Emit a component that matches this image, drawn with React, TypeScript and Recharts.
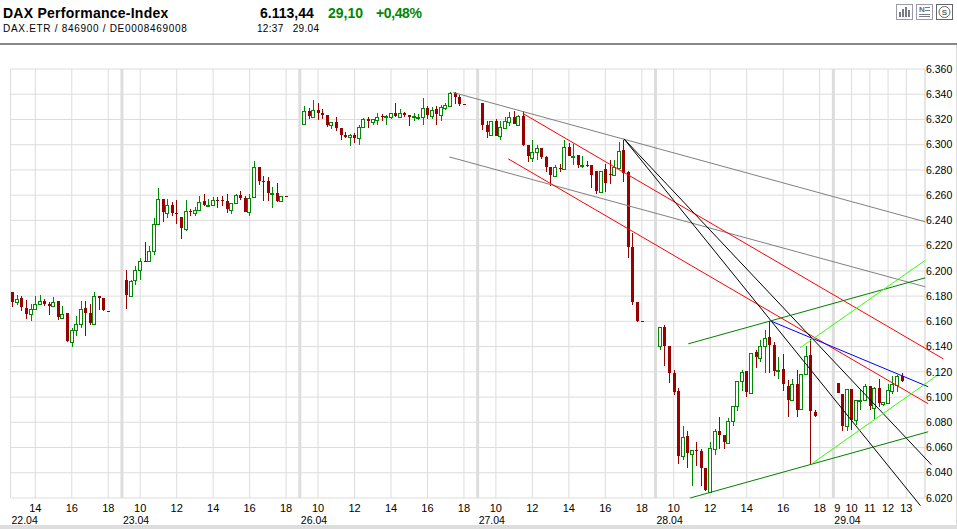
import {
  ComposedChart, Bar, XAxis, YAxis, CartesianGrid, ReferenceLine,
} from "recharts";

const FONT = '"Liberation Sans", Arial, sans-serif';
const GRID = "#dddddd";
const UP = "#008800";
const DOWN = "#990000";

// every candle is [open, high, low, close], 15 minute bars, one list per day
const day2204 = [
  [6183, 6183, 6171, 6175.5], [6175, 6181, 6173, 6178], [6178.5, 6180, 6168, 6171], [6170.5, 6177, 6162, 6166],
  [6165.5, 6174, 6160, 6170], [6170, 6180, 6169, 6174], [6174, 6181, 6173.5, 6176.5], [6176.5, 6178, 6172.5, 6174],
  [6173.5, 6175.5, 6165, 6172], [6172, 6179, 6171, 6175.5], [6176, 6176, 6161, 6163.5], [6163, 6172, 6163, 6166],
  [6166.5, 6166.5, 6143.5, 6144.5], [6144, 6154.5, 6140, 6153], [6153.5, 6164, 6148, 6158], [6158, 6176, 6155, 6170],
  [6170.5, 6176, 6148, 6167], [6166.5, 6173.5, 6157.5, 6159], [6158, 6183, 6158, 6180], [6180, 6180, 6169, 6178.5],
  [6178.5, 6178.5, 6168.5, 6169], [6168.6, 6168.6, 6168.4, 6168.4],
];
const day2304 = [
  [6192.5, 6201, 6170, 6180.7], [6180, 6193, 6179.5, 6192], [6192.5, 6204, 6189, 6201], [6201, 6210, 6192.7, 6207.7],
  [6208, 6223, 6207.5, 6207.5], [6208, 6219.5, 6208, 6216], [6216, 6242, 6212.5, 6237], [6237, 6266, 6237, 6257],
  [6257.3, 6257.3, 6238.6, 6246.5], [6245.7, 6257, 6241.7, 6252], [6252.5, 6254.4, 6243.3, 6245.7], [6245.5, 6256, 6237.5, 6245],
  [6243, 6243, 6225, 6234], [6233, 6256, 6232, 6247.5], [6247.5, 6249.4, 6243.3, 6246.5], [6246, 6251, 6243.3, 6248],
  [6248.3, 6259.4, 6248.3, 6254.7], [6255, 6261, 6251.8, 6252.5], [6251.5, 6257, 6251.2, 6252.3], [6252.3, 6258.6, 6252.3, 6256.3],
  [6256.3, 6258.6, 6249.7, 6256], [6256.5, 6259.7, 6251.2, 6255], [6255, 6261, 6246, 6249], [6248.3, 6254, 6245, 6254],
  [6254, 6261, 6253, 6260.5], [6260, 6263, 6256.5, 6257.6], [6258, 6259.7, 6246.5, 6247], [6246.8, 6261, 6243.3, 6258],
  [6258.4, 6287.4, 6258.4, 6282.4], [6282.6, 6282.6, 6268, 6271.6], [6271.5, 6275.5, 6255.7, 6271], [6271.6, 6274.7, 6255.2, 6261.8],
  [6261, 6266.8, 6249.7, 6261.8], [6262, 6270, 6254.4, 6255.7], [6255.7, 6259.4, 6255, 6259.4], [6259.5, 6259.5, 6259.3, 6259.3],
];
const day2604 = [
  [6316.8, 6330.8, 6316.8, 6326.8], [6326.8, 6329, 6320, 6322.8], [6322, 6335.5, 6322, 6327.6], [6327.6, 6333, 6319.7, 6325.2],
  [6325.2, 6328.4, 6320, 6323.6], [6323.6, 6323.6, 6314, 6315.5], [6315.5, 6317.8, 6312.8, 6317.8], [6317.8, 6322, 6311, 6313.6],
  [6313, 6313, 6303.8, 6307.8], [6307.8, 6309.7, 6305, 6306.2], [6306, 6308.6, 6299, 6307.5], [6307.5, 6309, 6301, 6305.4],
  [6305, 6315.7, 6300, 6314.4], [6314, 6321, 6313, 6320], [6320.5, 6321.8, 6313.6, 6318.4], [6317.8, 6320, 6315.7, 6320],
  [6319.7, 6325, 6316, 6322.3], [6322.8, 6324, 6318.4, 6322.3], [6322, 6323.6, 6315.7, 6323], [6322.3, 6325, 6320, 6325],
  [6325, 6333, 6322.3, 6322.8], [6322.3, 6328.4, 6322.3, 6325], [6325, 6326, 6321.8, 6323.6], [6323.4, 6323.4, 6315, 6322.3],
  [6321.8, 6325, 6318.4, 6322.6], [6321.8, 6324.2, 6319.7, 6322.3], [6322.3, 6336.8, 6315.7, 6329], [6329.2, 6330.5, 6320, 6323.6],
  [6322.8, 6330.2, 6320.5, 6327.3], [6328.4, 6330.5, 6315.7, 6324.4], [6323.6, 6331.6, 6319, 6329.7], [6329.4, 6333, 6327.6, 6331.3],
  [6331, 6342, 6331, 6340.8], [6341, 6342, 6332, 6338], [6337.6, 6339, 6331, 6332.6], [6332.2, 6332.2, 6332, 6332],
];
const day2704 = [
  [6332.7, 6332.7, 6312, 6316], [6316, 6319, 6305.7, 6310], [6308, 6318.4, 6307.6, 6318.4], [6318.4, 6320.5, 6306.8, 6307],
  [6306.8, 6319, 6304, 6314.2], [6313.4, 6322, 6312.6, 6318.4], [6318, 6325.8, 6315, 6322], [6322, 6327, 6316.3, 6316.3],
  [6315.5, 6323.7, 6314.7, 6322.4], [6323, 6327, 6299, 6299.4], [6300, 6300, 6286, 6290.7], [6289.4, 6304, 6286, 6294.4],
  [6294, 6300, 6288, 6297.6], [6297.6, 6297.6, 6289, 6290], [6290, 6290.7, 6278.3, 6282], [6282, 6282, 6267, 6275.7],
  [6275, 6284, 6275, 6282], [6281.7, 6285, 6278.3, 6281.2], [6280.7, 6303.4, 6280, 6298.4], [6298.4, 6301, 6290.7, 6290.7],
  [6290, 6300.7, 6284, 6291], [6291.5, 6291.5, 6281.5, 6284], [6283.3, 6290.7, 6281.5, 6284], [6284, 6287.3, 6282, 6283.6],
  [6284, 6284, 6265.6, 6276], [6279.4, 6279.4, 6260.6, 6263], [6262.5, 6279.4, 6262, 6279.4], [6280.4, 6284.4, 6262.5, 6269.6],
  [6276.5, 6287.5, 6268.5, 6276.2], [6275.7, 6287.5, 6275, 6282], [6281.5, 6301.8, 6281.5, 6295.2], [6295.5, 6303.4, 6270.4, 6277.8],
  [6278, 6278.8, 6210, 6219.3], [6219, 6230.4, 6172.6, 6175.7], [6175.5, 6175.5, 6159.6, 6160.4], [6160.2, 6160.2, 6160, 6160],
];
const day2804 = [
  [6140.6, 6155.9, 6137.4, 6155.9], [6155.9, 6157.5, 6125, 6140.8], [6140.8, 6140.8, 6111, 6119], [6119, 6121.6, 6102, 6104.4],
  [6105, 6107, 6046.6, 6053], [6053, 6076.7, 6050, 6068.5], [6068.8, 6073, 6043.5, 6055.6], [6055, 6058.3, 6029.5, 6058.3],
  [6058.3, 6064.3, 6045.3, 6057], [6057, 6059, 6029.5, 6043.7], [6043.5, 6043.5, 6025.5, 6026], [6025, 6064.3, 6024, 6059.3],
  [6058.8, 6075, 6054, 6073.3], [6073.3, 6084, 6059, 6069.6], [6069.6, 6069.6, 6058.8, 6064], [6063.3, 6083.3, 6063.3, 6081.2],
  [6081, 6092.8, 6076.7, 6092.8], [6092.8, 6112.9, 6088.9, 6112.9], [6112.6, 6121.8, 6105, 6120], [6121, 6121, 6100, 6104],
  [6103, 6135, 6103, 6135], [6135.6, 6137.4, 6123, 6131.6], [6130.8, 6145.3, 6127.6, 6140.6], [6140.6, 6153.5, 6119, 6147],
  [6147.4, 6160, 6119, 6141.4], [6141.6, 6143.5, 6117, 6121], [6120.5, 6131.6, 6114.5, 6121.6], [6122.4, 6134, 6104.7, 6110],
  [6109, 6113.7, 6084, 6098], [6097.3, 6114.5, 6097.3, 6110.5], [6110.5, 6121.6, 6084, 6090], [6090.7, 6118.4, 6090.7, 6118.4],
  [6118.4, 6140.8, 6118.4, 6132.7], [6133, 6146, 6047, 6088.9], [6088, 6090, 6084, 6085],
];
const day2904 = [
  [6110.8, 6110.8, 6103.4, 6103.4], [6102.6, 6102.6, 6072.8, 6077], [6076.7, 6106.5, 6073, 6106], [6106, 6106, 6074, 6081.5],
  [6082, 6097.3, 6077.5, 6097.3], [6096.8, 6106.5, 6089.4, 6097.8], [6097.8, 6110.5, 6097.8, 6108.4], [6108.4, 6108.4, 6089.4, 6092.8],
  [6091.5, 6107.8, 6082.8, 6107.3], [6107.3, 6114.5, 6092, 6095.2], [6094.7, 6095.7, 6093.3, 6095.7], [6095.2, 6110.5, 6095.2, 6105.2],
  [6104.7, 6117, 6102.6, 6110], [6109.2, 6117.6, 6104, 6116.3], [6116.3, 6119, 6111.8, 6112.6],
];

const candleDays = [day2204, day2304, day2604, day2704, day2804, day2904];
// slot of the first candle of each day on the x axis
const firstSlots = [0, 25, 64, 103, 142, 181];

const hourTicks = [5, 13, 21, 28, 36, 44, 52, 60, 67, 75, 83, 91, 99, 106, 114, 122, 130, 138, 145, 153, 161, 169, 177, 180, 184, 188, 192, 196];
const hourLabels = ["14", "16", "18", "10", "12", "14", "16", "18", "10", "12", "14", "16", "18", "10", "12", "14", "16", "18", "10", "12", "14", "16", "18", "9", "10", "11", "12", "13"];
const dayTicks = [-0.44, 24, 63, 102, 141, 180];
const dayLabels = ["22.04", "23.04", "26.04", "27.04", "28.04", "29.04"];
const dayLines = [24, 63, 102, 141, 180];
const priceTicks = [6020, 6040, 6060, 6080, 6100, 6120, 6140, 6160, 6180, 6200, 6220, 6240, 6260, 6280, 6300, 6320, 6340, 6360];
const xMin = -0.44;
const xMax = 200.1;

// trend lines drawn on the chart, [slot, price, slot, price]
const grayLines = [[96.65, 6341.4, 200.15, 6238.9], [95.8, 6290.3, 200.15, 6187.4]];
const redLines = [[111.9, 6324.8, 204.1, 6130.3], [108.7, 6288.8, 200.8, 6094.7]];
const blackLines = [[134.1, 6304.6, 199.1, 6013.9], [134.1, 6304.6, 201.5, 6046.4]];
const blueLines = [[166.2, 6160.4, 200.8, 6108.2]];
const darkGreenLines = [[148.2, 6142.2, 200.15, 6194.5], [148.6, 6020, 200.8, 6072.5]];
const lightGreenLines = [[175.3, 6047.2, 203, 6117.7], [172.7, 6139, 200.15, 6208.4]];

const trendGroups = [
  { lines: grayLines, color: "#808080" },
  { lines: redLines, color: "#ff0000" },
  { lines: blackLines, color: "#000000" },
  { lines: blueLines, color: "#0000ff" },
  { lines: darkGreenLines, color: "#008000" },
  { lines: lightGreenLines, color: "#33ff00" },
];

const candles = candleDays.flatMap((day, d) =>
  day.map(([open, high, low, close], i) => ({
    slot: firstSlots[d] + i, open, high, low, close, range: [low, high],
  })),
);

function Candle(props: any) {
  const { x, y, width, height, payload } = props;
  const { open, high, low, close } = payload;
  const perPoint = height / (high - low);
  const cx = Math.round(x + width / 2) + 0.5;
  const yOf = (v: number) => y + (high - v) * perPoint;
  const rising = close >= open;
  const top = Math.round(yOf(Math.max(open, close)));
  const bottom = Math.round(yOf(Math.min(open, close)));
  const color = rising ? UP : DOWN;
  return (
    <g shapeRendering="crispEdges">
      <line x1={cx} x2={cx} y1={y} y2={y + height} stroke={color} strokeWidth={1} />
      {rising ? (
        <rect x={cx - 2} y={top + 0.5} width={3} height={Math.max(bottom - top, 1)} fill="#fff" stroke={color} strokeWidth={1} />
      ) : (
        <rect x={cx - 1.5} y={top} width={3} height={Math.max(bottom - top, 1)} fill={color} />
      )}
    </g>
  );
}

function HourTick(props: any) {
  const { x, y, index } = props;
  const label = hourLabels[index];
  return (
    <text x={label === "9" ? x + 4 : x} y={y + 6} textAnchor="middle" fontSize={11} fontFamily={FONT} fill="#000">
      {label}
    </text>
  );
}

function DayTick(props: any) {
  const { x, y, index } = props;
  return (
    <text x={x + 1} y={y + 3} textAnchor="start" fontSize={10.5} fontFamily={FONT} fill="#000">
      {dayLabels[index]}
    </text>
  );
}

const text = (left: number, top: number, size: number, extra: any = {}) => ({
  position: "absolute" as const, left, top, fontSize: size, lineHeight: `${size + 2}px`,
  fontFamily: FONT, color: "#000", whiteSpace: "pre" as const, ...extra,
});

function Icons() {
  return (
    <svg width={60} height={18} style={{ position: "absolute", left: 895, top: 3 }} shapeRendering="crispEdges">
      <rect x={1.5} y={1.5} width={16} height={15} fill="#fff" stroke="#9a9aa8" />
      <rect x={4} y={9} width={2} height={5} fill="#7a7a8a" />
      <rect x={7} y={6} width={2} height={8} fill="#7a7a8a" />
      <rect x={10} y={4} width={2} height={10} fill="#7a7a8a" />
      <rect x={13} y={7} width={2} height={7} fill="#7a7a8a" />
      <rect x={21.5} y={1.5} width={16} height={15} fill="#fff" stroke="#9a9aa8" />
      <text x={24} y={9} fontSize={8} fontFamily={FONT} fontWeight="bold" fill="#6a6a7a">N</text>
      <rect x={30} y={4} width={5} height={1} fill="#7a7a8a" />
      <rect x={30} y={7} width={5} height={1} fill="#7a7a8a" />
      <rect x={24} y={11} width={11} height={1} fill="#7a7a8a" />
      <rect x={24} y={13} width={11} height={1} fill="#7a7a8a" />
      <rect x={41.5} y={1.5} width={16} height={15} fill="#fff" stroke="#666" />
      <circle cx={49.5} cy={9} r={5.5} fill="none" stroke="#666" shapeRendering="auto" />
      <text x={49.5} y={12} textAnchor="middle" fontSize={8} fontFamily={FONT} fontWeight="bold" fill="#666">S</text>
    </svg>
  );
}

export default function App() {
  return (
    <div style={{ position: "absolute", left: 0, top: 0, width: 957, height: 529, background: "#fff", overflow: "hidden" }}>
      <div style={text(3, 5, 14, { fontWeight: "bold", letterSpacing: 0.25 })}>DAX Performance-Index</div>
      <div style={text(260, 5, 14, { fontWeight: "bold" })}>6.113,44</div>
      <div style={text(328, 5, 14, { fontWeight: "bold", color: UP })}>29,10</div>
      <div style={text(376, 5, 14, { fontWeight: "bold", color: UP, letterSpacing: -0.4 })}>+0,48%</div>
      <div style={text(3, 23, 10, { letterSpacing: 0.7 })}>DAX.ETR / 846900 / DE0008469008</div>
      <div style={text(257, 23, 10, { letterSpacing: 0.3 })}>12:37   29.04</div>
      <Icons />
      <div style={{ position: "absolute", left: 0, top: 43, width: 957, height: 2, background: "#888" }} />
      <div style={{ position: "absolute", left: 956, top: 45, width: 1, height: 484, background: GRID }} />
      <div style={{ position: "absolute", left: 0, top: 525, width: 957, height: 4, background: GRID }} />
      <div style={{ position: "absolute", left: 0, top: 0 }}>
        <ComposedChart
          width={957}
          height={529}
          data={candles}
          margin={{ top: 69, right: 0, bottom: 0, left: 10.5 }}
          barSize={5}
        >
          <CartesianGrid xAxisId="hour" yAxisId="price" stroke={GRID} strokeWidth={1} />
          <XAxis
            xAxisId="hour"
            dataKey="slot"
            type="number"
            domain={[xMin, xMax]}
            allowDataOverflow
            ticks={hourTicks}
            interval={0}
            height={15}
            tickLine={false}
            axisLine={false}
            tick={<HourTick />}
          />
          <XAxis
            xAxisId="label"
            dataKey="slot"
            type="number"
            domain={[xMin, xMax]}
            allowDataOverflow
            ticks={dayTicks}
            interval={0}
            height={16}
            tickLine={false}
            axisLine={false}
            tick={<DayTick />}
          />
          <YAxis
            yAxisId="price"
            orientation="right"
            domain={[6020, 6360]}
            allowDataOverflow
            ticks={priceTicks}
            interval={0}
            width={32}
            tickLine={false}
            tickSize={0}
            axisLine={false}
            tickMargin={1}
            tick={{ fontSize: 10.5, fontFamily: FONT, fill: "#000" }}
            tickFormatter={(v) => `${Math.floor(v / 1000)}.${String(v % 1000).padStart(3, "0")}`}
          />
          {[xMin, xMax].map((v) => (
            <ReferenceLine key={v} xAxisId="hour" yAxisId="price" x={v} stroke={GRID} ifOverflow="visible" />
          ))}
          {dayLines.map((d) => (
            <ReferenceLine key={d} xAxisId="hour" yAxisId="price" x={d} stroke={GRID} strokeWidth={3} />
          ))}
          <Bar xAxisId="hour" yAxisId="price" dataKey="range" shape={<Candle />} isAnimationActive={false} />
          {trendGroups.flatMap((g, i) =>
            g.lines.map((l, j) => (
              <ReferenceLine
                key={`${i}-${j}`}
                xAxisId="hour"
                yAxisId="price"
                segment={[{ x: l[0], y: l[1] }, { x: l[2], y: l[3] }]}
                stroke={g.color}
                strokeWidth={1}
                ifOverflow="visible"
              />
            )),
          )}
        </ComposedChart>
      </div>
    </div>
  );
}
